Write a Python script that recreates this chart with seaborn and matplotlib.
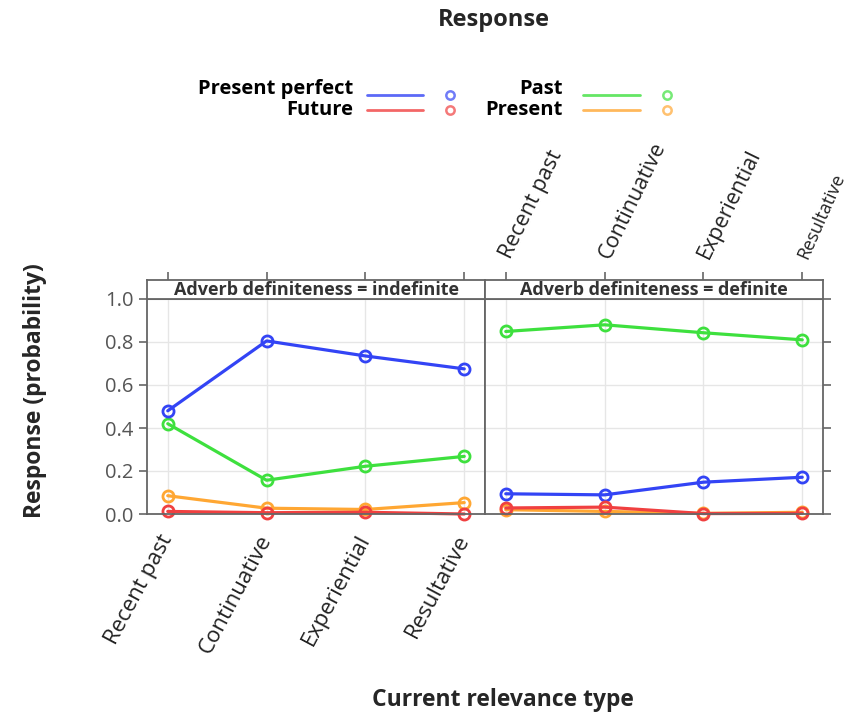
import matplotlib
matplotlib.use("Agg")
import matplotlib.pyplot as plt
import pandas as pd
import seaborn as sns
from matplotlib.lines import Line2D

types = ["Recent past", "Continuative", "Experiential", "Resultative"]
responses = ["Present perfect", "Future", "Past", "Present"]
colors = {"Present perfect": "#3344f5", "Future": "#f04040",
          "Past": "#3ee03e", "Present": "#ffa733"}

# indefinite panel
indef_pp = [0.48, 0.805, 0.735, 0.675]
indef_past = [0.42, 0.157, 0.222, 0.268]
indef_present = [0.085, 0.027, 0.021, 0.053]
indef_future = [0.012, 0.006, 0.008, 0.0]

# definite panel
def_pp = [0.094, 0.089, 0.148, 0.171]
def_past = [0.849, 0.88, 0.843, 0.81]
def_present = [0.02, 0.012, 0.003, 0.008]
def_future = [0.028, 0.032, 0.002, 0.003]

rows = []
for panel, vals in [("indefinite", [indef_pp, indef_future, indef_past, indef_present]),
                    ("definite", [def_pp, def_future, def_past, def_present])]:
    for resp, v in zip(responses, vals):
        for t, p in zip(types, v):
            rows.append({"panel": panel, "type": t, "response": resp, "prob": p})
df = pd.DataFrame(rows)

sns.set_style("white")
plt.rcParams["font.family"] = ["Open Sans", "DejaVu Sans"]

fig = plt.figure(figsize=(8.48, 7.17), dpi=100)
W, H = 848, 717
frame_col = "#666666"
tick_col = "#555555"

def box(x0, y0, x1, y1):
    return [x0 / W, 1 - y1 / H, (x1 - x0) / W, (y1 - y0) / H]

panels = [("indefinite", 147, 485), ("definite", 485, 823)]
for i, (panel, x0, x1) in enumerate(panels):
    ax = fig.add_axes(box(x0, 299, x1, 514))
    sub = df[df["panel"] == panel]
    sns.lineplot(data=sub, x="type", y="prob", hue="response",
                 hue_order=["Present", "Past", "Present perfect", "Future"],
                 palette=colors, marker="o", markersize=8, linewidth=2.3,
                 ax=ax, legend=False, sort=False)
    for ln in ax.lines:
        c = ln.get_color()
        ln.set_markeredgecolor(c)
        ln.set_markerfacecolor("none")
        ln.set_markeredgewidth(2)
        ln.set_clip_on(False)
    ax.set_xlim(-0.21, 3.21)
    ax.set_ylim(0, 1.0)
    ax.set_xticks(range(4))
    ax.set_yticks([0, 0.2, 0.4, 0.6, 0.8, 1.0])
    ax.grid(True, color="#e6e6e6", linewidth=1)
    ax.set_xlabel("")
    ax.set_ylabel("")
    for s in ax.spines.values():
        s.set_color(frame_col)
        s.set_linewidth(1.3)
    ax.tick_params(axis="both", direction="out", length=6, width=1.2,
                   color=frame_col, labelcolor=tick_col, labelsize=14.5)
    if i == 0:
        ax.set_xticklabels(types, rotation=62, ha="right", va="center",
                           rotation_mode="anchor", fontsize=16, color="#222222")
        ax.tick_params(axis="x", pad=10)
        ax.set_yticklabels(["0.0", "0.2", "0.4", "0.6", "0.8", "1.0"])
        ax.tick_params(axis="y", left=True, right=False, labelleft=True)
    else:
        ax.set_xticklabels([])
        ax.tick_params(axis="y", left=False, right=True, labelleft=False)

    # strip
    sax = fig.add_axes(box(x0, 280, x1, 299))
    sax.set_xlim(-0.21, 3.21)
    sax.set_ylim(0, 1)
    sax.set_yticks([])
    sax.set_xticks(range(4))
    sax.xaxis.tick_top()
    sax.tick_params(axis="x", direction="out", length=6, width=1.2,
                    color=frame_col, labelcolor="#222222", pad=10)
    if i == 1:
        labs = sax.set_xticklabels(types, rotation=64, ha="left", va="center",
                                   rotation_mode="anchor", fontsize=15.5)
        labs[-1].set_fontsize(13)
        labs[-1].set_rotation(66)
    else:
        sax.set_xticklabels([])
    for s in sax.spines.values():
        s.set_color(frame_col)
        s.set_linewidth(1.3)
    sax.text(0.5, 0.45, f"Adverb definiteness = {panel}", transform=sax.transAxes,
             ha="center", va="center", fontsize=13, fontweight="bold",
             color="#333333")

# legend drawn by hand
leg = [("Present perfect", 353, 89, 367, 423, 450, 95),
       ("Future", 353, 110, 367, 423, 450, 110),
       ("Past", 563, 89, 583, 640, 667, 95),
       ("Present", 563, 110, 583, 640, 667, 110)]
for name, tx, ty, lx0, lx1, mx, ly in leg:
    fig.text(tx / W, 1 - ty / H, name, ha="right", va="center",
             fontsize=14.5, fontweight="bold", color="black")
    fig.add_artist(Line2D([lx0 / W, lx1 / W], [1 - ly / H, 1 - ly / H],
                          color=colors[name], lw=2, alpha=0.8))
    fig.add_artist(Line2D([mx / W], [1 - ly / H], marker="o", markersize=6,
                          mfc="none", mec=colors[name], mew=1.8, alpha=0.7))

fig.text(494 / W, 1 - 20 / H, "Response", ha="center", va="center",
         fontsize=17, fontweight="bold")
fig.text(503 / W, 1 - 700 / H, "Current relevance type", ha="center",
         va="center", fontsize=16.5, fontweight="bold")
fig.text(35 / W, 1 - 391 / H, "Response (probability)", ha="center",
         va="center", rotation=90, fontsize=16.5, fontweight="bold")

fig.savefig("out.png", dpi=100)
